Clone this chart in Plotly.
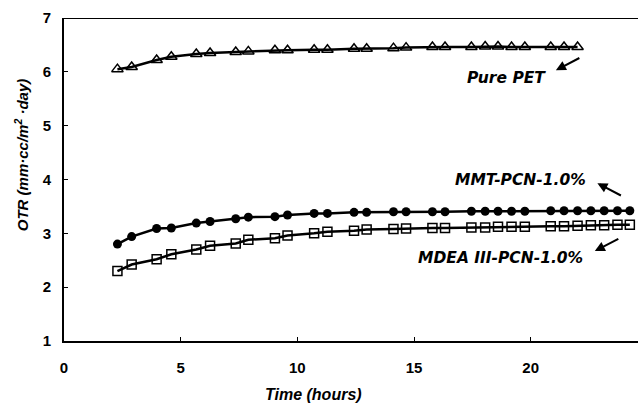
import plotly.graph_objects as go

time_h = [2.29, 2.90, 3.97, 4.60, 5.67, 6.26, 7.36, 7.90, 9.04, 9.58, 10.72, 11.29,
          12.43, 12.97, 14.12, 14.66, 15.79, 16.33, 17.46, 18.05, 18.60, 19.18, 19.75,
          20.86, 21.43, 22.01, 22.58, 23.15, 23.72, 24.25]

pet = [6.05, 6.09, 6.22, 6.28, 6.33, 6.35, 6.37, 6.38, 6.40, 6.40, 6.41, 6.41, 6.43,
       6.43, 6.44, 6.45, 6.46, 6.46, 6.46, 6.47, 6.47, 6.46, 6.46, 6.46, 6.46, 6.46]
mmt = [2.80, 2.94, 3.09, 3.10, 3.19, 3.22, 3.27, 3.30, 3.31, 3.34, 3.37, 3.37, 3.39,
       3.39, 3.40, 3.40, 3.40, 3.40, 3.41, 3.41, 3.41, 3.41, 3.41, 3.42, 3.42, 3.42,
       3.42, 3.42, 3.42, 3.42]
mdea = [2.30, 2.42, 2.52, 2.61, 2.70, 2.77, 2.81, 2.88, 2.91, 2.96, 3.00, 3.03, 3.05,
        3.07, 3.08, 3.09, 3.10, 3.10, 3.11, 3.11, 3.12, 3.12, 3.12, 3.13, 3.13, 3.14,
        3.15, 3.15, 3.16, 3.16]

FONT = "Liberation Sans, Arial, sans-serif"
WIDE = "DejaVu Sans, Verdana, sans-serif"

fig = go.Figure()
fig.add_trace(go.Scatter(x=time_h[:len(pet)], y=pet, mode="lines+markers",
                         line=dict(color="black", width=2.5),
                         marker=dict(symbol="triangle-up-open", size=10, color="black",
                                     line=dict(width=1.5, color="black"))))
fig.add_trace(go.Scatter(x=time_h, y=mmt, mode="lines+markers",
                         line=dict(color="black", width=2.5),
                         marker=dict(symbol="circle", size=9, color="black")))
fig.add_trace(go.Scatter(x=time_h, y=mdea, mode="lines+markers",
                         line=dict(color="black", width=2.5),
                         marker=dict(symbol="square-open", size=9, color="black",
                                     line=dict(width=1.5, color="black"))))

ann_font = dict(family=WIDE, size=15.5, color="black")
arrow = dict(text="", showarrow=True, arrowhead=2, arrowsize=1, arrowwidth=2,
             arrowcolor="black")
annotations = [
    dict(x=18.97, y=5.88, text="<b><i>Pure PET</i></b>", showarrow=False, font=ann_font),
    dict(x=19.58, y=3.99, text="<b><i>MMT-PCN-1.0%</i></b>", showarrow=False, font=ann_font),
    dict(x=18.72, y=2.54, text="<b><i>MDEA III-PCN-1.0%</i></b>", showarrow=False, font=ann_font),
    dict(x=21.08, y=6.03, ax=25, ay=-13, **arrow),
    dict(x=22.86, y=3.93, ax=25, ay=13, **arrow),
    dict(x=22.75, y=2.67, ax=25, ay=-13, **arrow),
    dict(xref="paper", yref="paper", x=(313 - 64) / 574, y=-(394 - 341) / 323,
         yanchor="middle", text="<b><i>Time (hours)</i></b>", showarrow=False,
         font=dict(family=FONT, size=16, color="black")),
    dict(xref="paper", yref="y", x=(21 - 64) / 574, y=4.45, xanchor="center",
         yanchor="middle", textangle=-90,
         text="<b><i>OTR (mm·cc/m<sup>2</sup> ·day)</i></b>", showarrow=False,
         font=dict(family=FONT, size=15, color="black")),
]

fig.update_layout(
    width=638, height=405,
    margin=dict(l=64, r=0, t=18, b=64),
    paper_bgcolor="white", plot_bgcolor="white",
    showlegend=False,
    font=dict(family=FONT, color="black"),
    annotations=annotations,
    shapes=[dict(type="line", xref="paper", yref="y", x0=0, x1=1, y0=7, y1=7,
                 line=dict(color="black", width=2))],
)
fig.update_xaxes(range=[0, 24.6], tickvals=[0, 5, 10, 15, 20], showgrid=False,
                 zeroline=False, showline=True, linecolor="black", linewidth=2,
                 ticks="inside", ticklen=4, tickwidth=1, tickcolor="black",
                 ticklabelstandoff=12,
                 tickfont=dict(family=FONT, size=15, color="black", weight="bold"))
fig.update_yaxes(range=[1, 7], tickvals=[1, 2, 3, 4, 5, 6, 7], showgrid=False,
                 zeroline=False, showline=True, linecolor="black", linewidth=2,
                 ticks="inside", ticklen=4, tickwidth=1, tickcolor="black",
                 ticklabelstandoff=8,
                 tickfont=dict(family=FONT, size=15, color="black", weight="bold"))

fig.write_html("out.html")
